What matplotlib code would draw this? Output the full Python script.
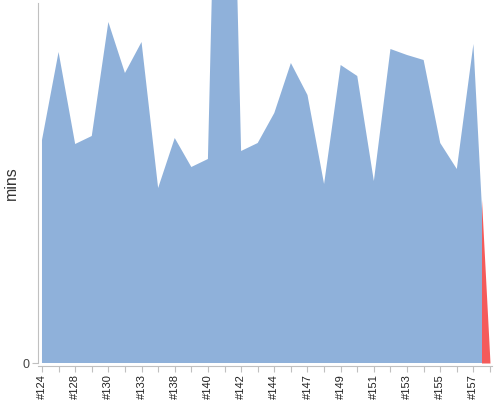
import matplotlib as mp
mp.use('Agg')

import matplotlib.pyplot as plt
from matplotlib.patches import Rectangle
import numpy as np

# build ids, only every other one gets a label
builds = ['#124', '#126', '#128', '#129', '#130', '#132', '#133', '#136',
          '#138', '#139', '#140', '#141', '#142', '#143', '#144', '#146',
          '#147', '#148', '#149', '#150', '#151', '#152', '#153', '#154',
          '#155', '#156', '#157', '#158']
mins = [22.3, 31.1, 21.9, 22.7, 34.1, 29.0, 32.1, 17.5, 22.5, 19.6,
        20.4, 90.0, 21.2, 22.0, 25.0, 30.0, 26.8, 17.9, 29.8, 28.7,
        18.2, 31.4, 30.8, 30.3, 22.0, 19.4, 31.9, 0.0]

blue = '#8fb1da'
red = '#f45b5b'
grey = '#c0c0c0'

plt.rcParams['font.family'] = ['Liberation Sans', 'DejaVu Sans']

fig = plt.figure(figsize=(5, 4), dpi=100)
ax = fig.add_axes([0.076, 0.0925, 0.908, 0.90])

x = np.arange(len(mins))
cut = len(mins) - 1.5
# blue up to half way into the last segment, red after that
area = ax.fill_between(x, 0, mins, color=blue, linewidth=0)
area.set_clip_path(Rectangle((-1, -10), cut + 1, 200, transform=ax.transData))
last = ax.fill_between(x[-2:], 0, mins[-2:], color=red, linewidth=0)
last.set_clip_path(Rectangle((cut, -10), 2, 200, transform=ax.transData))

ax.set_xlim(-0.24, len(mins) - 1 + 0.12)
ax.set_ylim(0, 36)

ax.set_xticks(x)
ax.set_xticklabels([b if i % 2 == 0 else '' for i, b in enumerate(builds)])
ax.set_yticks([0])
ax.set_yticklabels(['0'])
ax.set_ylabel('mins', fontsize=11.5, color='#333333')
ax.yaxis.set_label_coords(-0.041, 0.5)

for s in ['top', 'right']:
    ax.spines[s].set_visible(False)
ax.spines['left'].set_color(grey)
ax.spines['bottom'].set_color(grey)
ax.spines['bottom'].set_position(('outward', 2))
ax.tick_params(axis='x', colors=grey, length=4, width=0.8, pad=2,
               labelcolor='#222222', labelrotation=90, labelsize=8)
ax.tick_params(axis='y', colors=grey, length=4, width=0.8, pad=2,
               labelcolor='#444444', labelsize=9)

fig.savefig('out.png', dpi=100)
